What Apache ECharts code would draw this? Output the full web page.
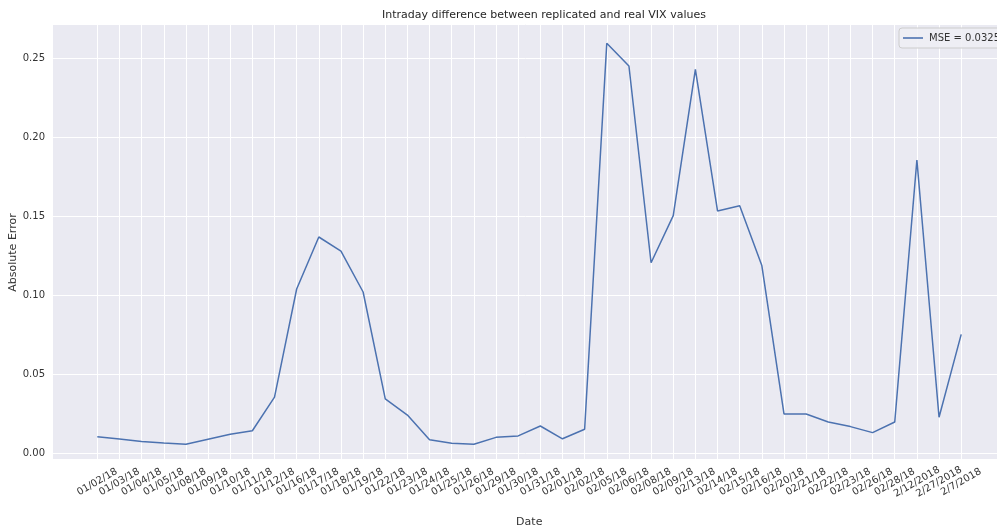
<!DOCTYPE html>
<html>
<head>
<meta charset="utf-8">
<script src="https://cdn.jsdelivr.net/npm/echarts@6/dist/echarts.min.js"></script>
<style>html,body{margin:0;padding:0;background:#fff}#c{width:997px;height:529px}</style>
</head>
<body>
<div id="c"></div>
<script>
const dates = ['01/02/18','01/03/18','01/04/18','01/05/18','01/08/18','01/09/18','01/10/18','01/11/18','01/12/18','01/16/18',
  '01/17/18','01/18/18','01/19/18','01/22/18','01/23/18','01/24/18','01/25/18','01/26/18','01/29/18','01/30/18',
  '01/31/18','02/01/18','02/02/18','02/05/18','02/06/18','02/08/18','02/09/18','02/13/18','02/14/18','02/15/18',
  '02/16/18','02/20/18','02/21/18','02/22/18','02/23/18','02/26/18','02/28/18','2/12/2018','2/27/2018','2/7/2018'];
const errors = [0.0103,0.0089,0.0072,0.0063,0.0055,0.0087,0.0118,0.0141,0.0354,0.1038,
  0.1367,0.1278,0.1019,0.0342,0.0240,0.0084,0.0061,0.0055,0.0099,0.0108,
  0.0171,0.0090,0.0150,0.2593,0.2449,0.1204,0.1502,0.2428,0.1532,0.1565,
  0.1186,0.0247,0.0247,0.0196,0.0167,0.0129,0.0196,0.1854,0.0226,0.0751];
const yTicks = [0, 0.05, 0.10, 0.15, 0.20, 0.25];
const seriesName = 'MSE = 0.0325';

const PAD = 2;
const padL = Array.from({length: PAD}, (_, i) => '__padL' + i);
const padR = Array.from({length: PAD}, (_, i) => '__padR' + i);
const axisCats = padL.concat(dates, padR);
const isReal = (idx) => idx >= PAD && idx < PAD + dates.length;

const font = 'DejaVu Sans';
const txt = '#333';
const chart = echarts.init(document.getElementById('c'), null, {renderer: 'canvas'});
chart.setOption({
  animation: false,
  backgroundColor: '#ffffff',
  textStyle: {fontFamily: font},
  title: {
    text: 'Intraday difference between replicated and real VIX values',
    left: 377, top: 5,
    textStyle: {fontFamily: font, fontSize: 11, fontWeight: 'normal', color: '#262626'}
  },
  legend: {
    data: [seriesName],
    left: 899, top: 28,
    padding: [5, 8, 5, 4],
    backgroundColor: 'rgba(238,238,244,0.9)',
    borderColor: '#cccccc', borderWidth: 1, borderRadius: 3,
    icon: 'rect', itemWidth: 20, itemHeight: 1.6, itemGap: 5,
    textStyle: {fontFamily: font, fontSize: 10, color: txt, padding: [0, 0, 0, 1]}
  },
  grid: {
    left: 53, top: 24, width: 952.5, height: 435,
    show: true, backgroundColor: '#EAEAF2', borderWidth: 0,
    containLabel: false, outerBoundsMode: 'none'
  },
  xAxis: {
    type: 'category',
    data: axisCats,
    boundaryGap: false,
    name: 'Date', nameLocation: 'middle', nameGap: 58, nameMoveOverlap: false,
    nameTextStyle: {fontFamily: font, fontSize: 11, color: txt},
    axisLine: {show: false}, axisTick: {show: false},
    axisLabel: {
      interval: 0, rotate: 30, align: 'center', verticalAlign: 'middle', margin: 23,
      fontFamily: font, fontSize: 10, color: txt,
      formatter: (v) => (v.indexOf('__pad') === 0 ? '' : v)
    },
    splitLine: {
      show: true,
      interval: (idx) => isReal(idx),
      lineStyle: {color: '#ffffff', width: 1}
    }
  },
  yAxis: {
    type: 'value',
    min: -0.0038, max: 0.2715,
    splitNumber: 5,
    name: 'Absolute Error', nameLocation: 'middle', nameGap: 34, nameMoveOverlap: false,
    nameTextStyle: {fontFamily: font, fontSize: 11, color: txt, padding: [0, 22, 0, 0]},
    axisLine: {show: false}, axisTick: {show: false},
    axisLabel: {
      margin: 8, fontFamily: font, fontSize: 10, color: txt,
      showMinLabel: false, showMaxLabel: false,
      formatter: (v) => {
        const hit = yTicks.find(t => Math.abs(t - v) < 1e-9);
        return hit === undefined ? '' : hit.toFixed(2);
      }
    },
    splitLine: {show: true, lineStyle: {color: '#ffffff', width: 1}}
  },
  series: [{
    name: seriesName,
    type: 'line',
    data: errors.map((v, i) => [i + PAD, v]),
    showSymbol: false, symbol: 'none',
    lineStyle: {color: '#4C72B0', width: 1.5},
    itemStyle: {color: '#4C72B0'},
    z: 3
  }]
});
</script>
</body>
</html>
